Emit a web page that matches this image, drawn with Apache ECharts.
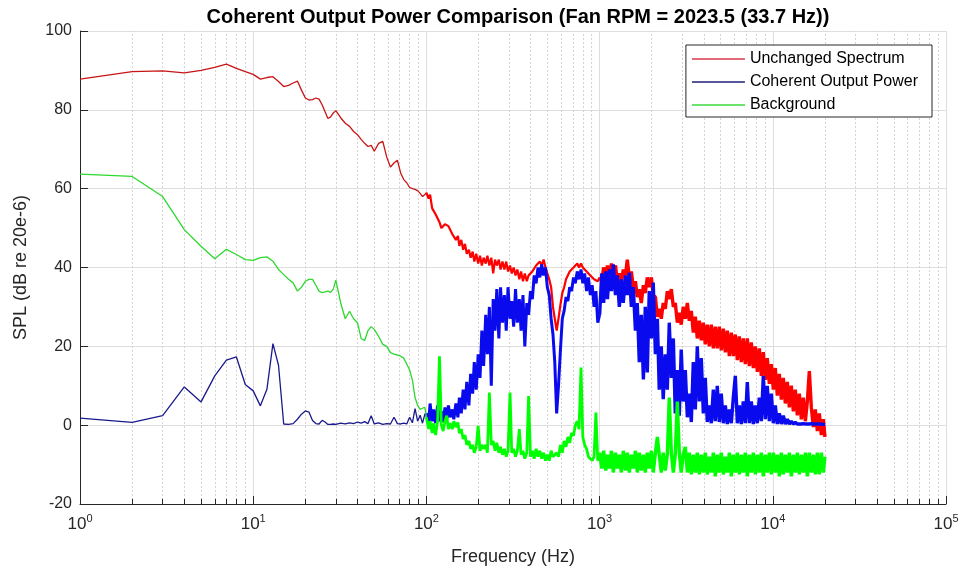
<!DOCTYPE html>
<html>
<head>
<meta charset="utf-8">
<script src="https://cdn.jsdelivr.net/npm/echarts@6/dist/echarts.min.js"></script>
<style>html,body{margin:0;padding:0;background:#fff}#c{width:966px;height:571px}</style>
</head>
<body>
<div id="c"></div>
<script>
// ---- Frequency grids (Hz) ----
const freqLow = [1,2,3,4,5,6,7,8,9,10,11,12,13,14,15,16,17,18,19,20,21,22,23,24,25,26,27,28,29,30,
  32,34,36,38,40,42,44,46,48,50,53,56,59,62,65,68,71,74,77,80,83,86,89,92,95,98];
const freqMid = [100,103,105,108,110,113,116,119,122,125,128,131,134,137,141,144,148,152,155,159,163,167,171,176,180,
  185,189,194,199,204,209,214,220,225,231,237,243,249,255,262,268,275,282,289,296,304,311,319,327,335,344,352,361,370,
  380,389,399,409,419,430,441,452,463,475,487,499,512,525,538,551,565,579,594,609,624,640,656,672,689,707,724,743,761,
  781,800,820,841,862,884,906,929,952,976];
const freqHigh = [1000,1030,1055,1085,1110,1140,1170,1200,1235,1265,1300,1335,1370,1410,1445,1485,1525,1565,1610,1650,
  1695,1740,1790,1835,1885,1935,1990,2040,2100,2155,2210,2270,2330,2395,2460,2525,2595,2665,2735,2810,2885,2960,3040,
  3125,3210,3295,3385,3475,3570,3665,3765,3865,3970,4075,4185,4300,4415,4535,4655,4780,4910,5040,5180,5320,5460,5610,
  5760,5915,6075,6240,6405,6580,6755,6940,7125,7320,7515,7720,7925,8140,8360,8585,8815,9055,9295,9550,9805,10070,10340,
  10620,10905,11200,11500,11810,12130,12455,12790,13135,13490,13855,14225,14610,15005,15410,15825,16250,16690,17140,
  17600,18075,18565,19065,19580,20000];

// ---- Unchanged Spectrum (dB) ----
const unchangedLow = [87.8,89.7,89.9,89.4,90.0,90.8,91.6,90.5,89.7,89.0,87.8,88.2,88.4,87.2,85.9,86.2,86.8,87.3,85,83,
  82.5,82.6,83,82.7,81.3,79.5,77.8,78.2,79.2,79.8,78,76.6,75.8,74.5,73.7,72.5,71.5,70.7,71,69.5,71.5,72,68,65.5,66.5,
  67.2,64,62.3,61.5,60.3,60,59.8,59.5,58.8,58,58.5];
const unchangedMid = [59,57.5,58.5,55,55.5,53.5,53,51.5,50,49.5,51,51.5,50.5,51,48.5,49,47,48,45.5,47,44.5,46,43.5,44.5,
  42.5,44,41.5,43.5,41,43,40.5,42.5,41,43,40.5,42.5,38.5,42,40.5,42,39.5,41.5,39.5,41.5,39,40.5,38.5,40,38,39.5,37,39,
  36.5,38.5,36.5,38,37.5,39,38.5,40.5,40,41.5,40.5,42,40,40,37,35,30,27,24,27,30.5,33.5,35,37,37.5,39,38.5,40,39.5,41,
  40,41,40,40.5,39,39.5,38,38.5,37,37.5,36.5];
const unchangedHigh = [37.5,36.5,40,38,40.5,38,41,39,40.5,36.5,38.5,36,39.5,38,42,37.5,39,35,36.5,32.5,34.5,31,35.5,33.5,
  37.5,35,37.5,33,32.5,27.5,29.5,27,31,29.5,34,32,34.5,30,31,26,28.5,25.5,30,27,31,26.5,29,23.5,27.5,22,26.5,21.5,26,
  20.5,25.5,20,25.5,19.5,25,19.5,25,19,24.5,18.5,24,17.5,23.5,17.5,23,16.5,22.5,16,22,15.5,22,15,21,14.5,20,13.5,19.5,
  12.5,18.5,11.5,17,10.5,15.5,9,14.5,7.5,13,6.5,12,5.5,11,4.5,10,3.5,9,2.5,8,1.5,7,1,6,13.7,4.5,-0.5,4,-1.5,3,-2.5,1.5,-3];

// ---- Coherent Output Power (dB) ----
const coherentLow = [1.8,0.7,2.4,9.7,5.9,12.5,16.5,17.3,10.3,8.7,4.9,9.1,20.7,15.2,0.3,0.2,0.4,1.5,2.8,3.6,3.3,1.2,0.4,
  0.3,1.2,0.8,0.2,0.2,0.3,0.2,0.5,0.3,0.6,0.4,0.8,0.5,0.9,0.4,2.4,0.3,0.6,0.2,0.4,0.3,2,0.4,0.3,0.5,0.3,2,0.6,4.2,1,
  2.5,0.5,2.8];
const coherentMid = [3,0.5,5.5,1,4,0.5,5,1,3.5,0.8,4.5,1.5,5,2,4,1.5,5.5,2,7,3,9,4,11,5,13,8,16,9,18,12,24,15,28,18,30,
  10,32,24,34.5,22,35,26,33,24,35,27,31.5,25,34.5,26,32,24,33,20,31,28,34,32,38,36,40,37.5,40.8,38,40,35,33,27,23,16,
  3,10,19,27,29,32.5,31.5,35,34,37.5,36,39,37,39.5,36,38.5,34,37.5,33,35.5,30,34,26];
const coherentHigh = [28,38.5,31,39,32,39.5,34,40.8,33,38,30,37,31,38,33,38.7,30,35,24,31,16,28,11.6,30,13.4,34,22,36.2,
  18,27,9,20,6.6,18,9,26,12,22,3,14,2.4,19.2,6,14,2,8,0.8,16,4,20,6,17,3,12,0.8,5,0.5,9,1,10,0.8,8,0.5,5,0.3,4,0.5,7,
  12.5,0.5,5,0.3,6,0.5,10.9,0.5,6,0.3,5,0.5,7,1,12.5,1.5,10,1,8,0.5,5,0.3,3,0.3,2.4,0.3,1.5,0.3,1,0.3,0.7,0.3,0.5,0.3,
  0.4,0.3,0.5,0.3,0.4,0.3,0.4,0.3,0.3,0.3,0.2,0.2];

// ---- Background (dB) ----
const backgroundLow = [63.7,63.1,58,49.6,45.4,42.2,44.6,43.3,42,41.8,42.5,42.7,41.6,39.5,38.2,37,36.1,34,35,36.5,37,37,
  35.5,34,33.6,33.8,34,33.7,34.5,36.8,31,27,28.9,27,26,22,21.5,24,25,24.3,22.5,20.5,20,18.4,18,17.8,17.5,17,15.5,14,
  11.5,7,5,4,4.3,4.5];
const backgroundMid = [2,-1,1,-2,0.5,-2.5,1,17.5,0,-1.5,1,2.4,-1,0.5,-1,1,-0.5,0.7,-2,-1,-3.5,-2.5,-5,-4,-6,-5,-7,-5.5,
  -0.2,-6.5,-5,-6,-5,-7,8.3,-5,-4,-6.5,-4.5,-7,-5.5,-7.5,-6,-8,-6.5,8.3,-7,-6,-8,-6.5,-1,-7.5,-6.5,-8.5,-7,7.4,-8,-6.5,
  -8.5,-6,-8,-6.5,-8.5,-7,-9,-7.5,-9,-6.5,-8,-8.5,-7,-8,-5,-7,-4,-5.5,-3,-4.5,-2,-2.7,0,1,-1,14.6,-3,-5,-6,-8,-7.5,-9,
  -8,3.2,-9];
const backgroundHigh = [-7,-11,-6.5,-11.5,-7.5,-11,-6.5,-12,-7,-11,-7.5,-12,-6.5,-11.5,-7,-12,-7.5,-11,-6.5,-12,-7,-11.5,
  -7.5,-12,-7,-11,-6.5,-12,-7,-3,-7.5,-12,-7,-11.5,-7.5,7,-7,-12,-7.5,6,-7,-12,-7.5,-5.5,-12,-7,-12.5,-7.5,-12,-7,-12.5,
  -7.5,-12,-7,-12.5,-8,-12,-7,-13,-7.5,-12,-7,-12.5,-8,-12,-7,-13,-7.5,-12,-7,-12.5,-7.5,-12,-7,-13,-7.5,-12,-7,-12.5,
  -7.5,-12,-7,-13,-7.5,-12,-7,-12.5,-7,-12,-7.5,-13,-7,-12.5,-7.5,-12,-7,-13,-7.5,-12,-7,-12.5,-7.5,-12,-7,-13,-7,-12,
  -7.5,-12.5,-7,-12.5,-7,-12,-8];

// ---- Axis ticks / labels ----
const xMinorTicks = [2,3,4,5,6,7,8,9,20,30,40,50,60,70,80,90,200,300,400,500,600,700,800,900,
  2000,3000,4000,5000,6000,7000,8000,9000,20000,30000,40000,50000,60000,70000,80000,90000];
const seriesNames = ['Unchanged Spectrum','Coherent Output Power','Background'];
const titleText = 'Coherent Output Power Comparison (Fan RPM = 2023.5 (33.7 Hz))';

function zip(fs, vs){ return fs.map((f,i)=>[f, vs[i]]); }

const FONT = 'Liberation Sans, Arial, Helvetica, sans-serif';
const AX = '#262626';

function parts(lowV, midV, highV){
  return {
    low: zip(freqLow.concat([freqMid[0]]), lowV.concat([midV[0]])),
    mid: zip(freqMid.concat([freqHigh[0]]), midV.concat([highV[0]])),
    high: zip(freqHigh, highV)
  };
}
const curves = [
  Object.assign({name: seriesNames[0], color:'#ff0000', thin:'#c81414', legend:'#d83a4a', midW:2.2},
    parts(unchangedLow, unchangedMid, unchangedHigh)),
  Object.assign({name: seriesNames[1], color:'#0a0aee', thin:'#1a1a8c', legend:'#1e1e7a', midW:3},
    parts(coherentLow, coherentMid, coherentHigh)),
  Object.assign({name: seriesNames[2], color:'#00ff00', thin:'#2ed82e', legend:'#3cd83c', midW:2.8},
    parts(backgroundLow, backgroundMid, backgroundHigh))
];

const series = [];
// grid decorations: minor dotted grid lines and minor ticks, via markLine on an empty series
series.push({
  type:'line', data:[], silent:true, z:1,
  markLine:{
    silent:true, symbol:['none','none'], z:1, animation:false, label:{show:false},
    data: xMinorTicks.map(v=>({xAxis:v, lineStyle:{color:'#d4d4d4', type:[2,2], width:1}}))
      .concat(xMinorTicks.filter(v=>v<100000).map(v=>[
        {coord:[v,-20], lineStyle:{color:AX, type:'solid', width:1}},
        {coord:[v,-18.7]}
      ]))
  }
});
curves.forEach(c=>{
  const base = {name:c.name, type:'line', symbol:'none', showSymbol:false, color:c.legend, z:2, animation:false};
  series.push(Object.assign({}, base, {data:c.low, lineStyle:{color:c.thin, width:1.3}}));
  series.push(Object.assign({}, base, {data:c.mid, lineStyle:{color:c.color, width:c.midW, join:'bevel'}}));
  series.push(Object.assign({}, base, {data:c.high, lineStyle:{color:c.color, width:3.4, join:'bevel'}}));
});

const chart = echarts.init(document.getElementById('c'), null, {renderer:'canvas'});
chart.setOption({
  animation:false,
  backgroundColor:'#ffffff',
  title:{text:titleText, left:513, textAlign:'center', top:2,
    textStyle:{fontFamily:FONT, fontSize:20, fontWeight:'bold', color:'#000'}},
  legend:{
    data:curves.map(c=>({name:c.name, itemStyle:{color:c.legend}})),
    orient:'vertical', right:34, top:45,
    icon:'path://M0,0 H53 V1.4 H0 Z',
    backgroundColor:'#fff', borderColor:AX, borderWidth:1,
    padding:[6,14,4,6], itemWidth:53, itemHeight:16, itemGap:7,
    textStyle:{fontFamily:FONT, fontSize:16, color:'#000', lineHeight:16}
  },
  grid:{left:80, right:20, top:31, bottom:66, containLabel:false},
  xAxis:{
    type:'log', logBase:10, min:1, max:100000,
    name:'Frequency (Hz)', nameLocation:'middle', nameGap:44,
    nameTextStyle:{fontFamily:FONT, fontSize:18, color:AX},
    axisLine:{show:true, onZero:false, lineStyle:{color:AX, width:1}},
    axisTick:{show:true, inside:true, length:8, lineStyle:{color:AX}},
    splitLine:{show:true, lineStyle:{color:'#dedede', width:1}},
    minorTick:{show:false}, minorSplitLine:{show:false},
    axisLabel:{
      margin:9, color:AX,
      formatter:v=>'{b|10}{s|'+Math.round(Math.log10(v))+'}',
      rich:{b:{fontFamily:FONT, fontSize:17, color:AX, verticalAlign:'bottom'},
            s:{fontFamily:FONT, fontSize:11, color:AX, verticalAlign:'bottom', padding:[0,0,9,0]}}
    }
  },
  yAxis:{
    type:'value', min:-20, max:100, interval:20,
    name:'SPL (dB re 20e-6)', nameLocation:'middle', nameGap:50,
    nameTextStyle:{fontFamily:FONT, fontSize:18, color:AX},
    axisLine:{show:true, lineStyle:{color:AX, width:1}},
    axisTick:{show:true, inside:true, length:8, lineStyle:{color:AX}},
    splitLine:{show:true, lineStyle:{color:'#dedede', width:1}},
    axisLabel:{fontFamily:FONT, fontSize:16, color:AX, margin:8}
  },
  series: series
});
</script>
</body>
</html>
